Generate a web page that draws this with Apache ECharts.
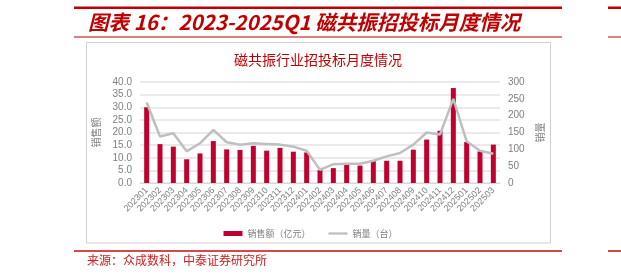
<!DOCTYPE html>
<html><head><meta charset="utf-8">
<script src="https://cdn.jsdelivr.net/npm/echarts@6/dist/echarts.min.js"></script>
<style>html,body{margin:0;padding:0;background:#fff}#c{width:621px;height:279px}</style>
</head><body><div id="c"></div>
<script>
const categories = ['202301','202302','202303','202304','202305','202306','202307','202308','202309','202310','202311','202312','202401','202402','202403','202404','202405','202406','202407','202408','202409','202410','202411','202412','202501','202502','202503'];
const salesAmount = [30.0,15.4,14.4,9.4,11.7,16.6,13.3,13.1,14.7,12.8,13.9,12.4,12.1,5.1,5.9,7.3,6.9,8.7,8.8,8.8,13.2,17.2,20.7,37.6,16.2,12.5,15.2];
const salesVolume = [239,138,148,94,118,158,121,114,118,116,114,108,96,39,56,57,57,66,79,89,114,150,144,250,124,96,87];
const leftTicks = {min:0, max:40, interval:5};
const rightTicks = {min:0, max:300, interval:50};

const RED = '#c00000';
const chart = echarts.init(document.getElementById('c'), null, {renderer:'canvas'});
chart.setOption({
  backgroundColor:'#fff',
  animation:false,
  graphic:[
    {type:'rect', shape:{x:74,y:6.5,width:488,height:2.5}, style:{fill:RED}},
    {type:'rect', shape:{x:608,y:6.5,width:13,height:2.5}, style:{fill:RED}},
    {type:'rect', shape:{x:74,y:36.5,width:488,height:1}, style:{fill:RED}},
    {type:'rect', shape:{x:608,y:36.5,width:13,height:1}, style:{fill:RED}},
    {type:'text', x:88, y:22, style:{text:'图表 16：2023-2025Q1 磁共振招投标月度情况', fill:RED, textVerticalAlign:'middle', font:'italic bold 20.5px "Noto Sans CJK SC", "Liberation Sans", sans-serif'}},
    {type:'rect', shape:{x:86.5,y:42.5,width:464,height:200.5}, style:{fill:'none', stroke:'#cfcfcf', lineWidth:1}},
    {type:'rect', shape:{x:74,y:250,width:488,height:2}, style:{fill:'#d24a4a'}},
    {type:'rect', shape:{x:608,y:250,width:13,height:2}, style:{fill:'#d24a4a'}},
    {type:'text', x:87, y:260, style:{text:'来源：众成数科，中泰证券研究所', fill:'#cc1f1f', textVerticalAlign:'middle', font:'12px "Noto Sans CJK SC", sans-serif'}},
    {type:'text', x:318, y:60, style:{text:'磁共振行业招投标月度情况', fill:RED, textAlign:'center', textVerticalAlign:'middle', font:'14px "Noto Sans CJK SC", sans-serif'}}
  ],
  grid:{left:140, right:121, top:82, bottom:96},
  legend:{
    top:224, left:'center', itemGap:18, itemWidth:19, itemHeight:5,
    textStyle:{color:'#7f7f7f', fontSize:9, fontFamily:'"Noto Sans CJK SC", sans-serif'},
    data:[{name:'销售额（亿元）', icon:'rect'},{name:'销量（台）', icon:'path://M0,0L20,0L20,2.4L0,2.4Z'}]
  },
  xAxis:{
    type:'category', data:categories,
    axisLine:{lineStyle:{color:'#d9d9d9'}}, axisTick:{show:false},
    axisLabel:{rotate:45, fontSize:9, color:'#7f7f7f', margin:6, interval:0, fontFamily:'"Liberation Sans", sans-serif'}
  },
  yAxis:[
    {type:'value', min:leftTicks.min, max:leftTicks.max, interval:leftTicks.interval, position:'left',
     name:'销售额', nameLocation:'middle', nameGap:37, nameRotate:90,
     nameTextStyle:{color:'#7f7f7f', fontSize:10, fontFamily:'"Noto Sans CJK SC", sans-serif'},
     axisLine:{show:false}, axisTick:{show:false},
     axisLabel:{formatter:v=>v.toFixed(1), color:'#7f7f7f', fontSize:10, margin:8, fontFamily:'"Liberation Sans", sans-serif'},
     splitLine:{lineStyle:{color:'#e3e3e3', width:1.5}}},
    {type:'value', min:rightTicks.min, max:rightTicks.max, interval:rightTicks.interval, position:'right',
     name:'销量', nameLocation:'middle', nameGap:30, nameRotate:90,
     nameTextStyle:{color:'#7f7f7f', fontSize:10, fontFamily:'"Noto Sans CJK SC", sans-serif'},
     axisLine:{show:false}, axisTick:{show:false},
     axisLabel:{color:'#7f7f7f', fontSize:10, margin:8, fontFamily:'"Liberation Sans", sans-serif'},
     splitLine:{show:false}}
  ],
  series:[
    {name:'销售额（亿元）', type:'bar', data:salesAmount, yAxisIndex:0, barWidth:5, itemStyle:{color:'#c0002e'}},
    {name:'销量（台）', type:'line', data:salesVolume, yAxisIndex:1, symbol:'none', lineStyle:{color:'#bfbfbf', width:2.5}, itemStyle:{color:'#bfbfbf'}}
  ]
});
</script></body></html>
